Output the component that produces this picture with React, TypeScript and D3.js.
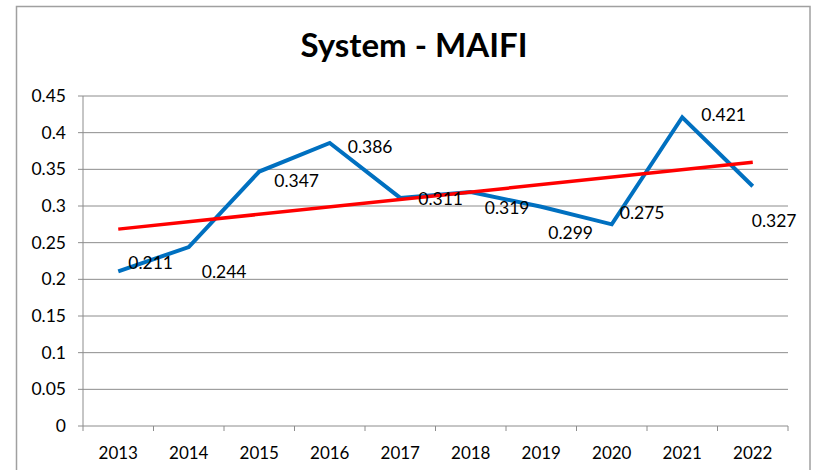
import React from "react";
import * as d3 from "d3";

const years = ["2013", "2014", "2015", "2016", "2017", "2018", "2019", "2020", "2021", "2022"];
const maifi = [0.211, 0.244, 0.347, 0.386, 0.311, 0.319, 0.299, 0.275, 0.421, 0.327];
const yTicks = [0, 0.05, 0.1, 0.15, 0.2, 0.25, 0.3, 0.35, 0.4, 0.45];
const yTickLabels = ["0", "0.05", "0.1", "0.15", "0.2", "0.25", "0.3", "0.35", "0.4", "0.45"];
// label offsets relative to the point (px)
const labelDx = [10, 13, 15, 18, 18, 14, 7, 8, 19, -1];
const labelDy = [-8, 25, 9, 4, 1, 16, 26, -11, -2, 35];

const W = 815;
const H = 470;
const FONT = "Lato, 'Open Sans', sans-serif";

export default function App() {
  const left = 83, right = 788, top = 96, bottom = 426;
  const x = d3.scaleBand<string>().domain(years).range([left, right]);
  const y = d3.scaleLinear().domain([0, 0.45]).range([bottom, top]);
  const cx = (i: number) => (x(years[i]) as number) + x.bandwidth() / 2;

  const line = d3
    .line<number>()
    .x((_, i) => cx(i))
    .y((d) => y(d));

  // linear trend line (least squares)
  const n = maifi.length;
  const xm = d3.mean(d3.range(n)) as number;
  const ym = d3.mean(maifi) as number;
  const slope =
    d3.sum(maifi.map((v, i) => (i - xm) * (v - ym))) /
    d3.sum(d3.range(n).map((i) => (i - xm) * (i - xm)));
  const intercept = ym - slope * xm;
  const trend = [intercept, intercept + slope * (n - 1)];

  const bandTicks = years.map((_, i) => left + i * x.step()).concat([right]);

  return (
    <svg width={W} height={H} style={{ position: "absolute", left: 0, top: 0 }}>
      <rect x={0} y={0} width={W} height={H} fill="#fff" />
      <rect x={16.5} y={6.5} width={793.5} height={480} fill="#fff" stroke="#a0a0a0" strokeWidth={1.5} />
      <text
        x={414}
        y={57}
        textAnchor="middle"
        fontFamily={FONT}
        fontWeight="bold"
        fontSize={33}
        fill="#000"
      >
        System - MAIFI
      </text>
      {yTicks.map((t, i) => (
        <g key={i}>
          <line x1={left} x2={right} y1={y(t)} y2={y(t)} stroke="#8c8c8c" strokeWidth={1} />
          <line x1={left - 5} x2={left} y1={y(t)} y2={y(t)} stroke="#8c8c8c" strokeWidth={1} />
          <text
            x={66}
            y={y(t)}
            dy="0.35em"
            textAnchor="end"
            fontFamily={FONT}
            fontSize={17.5}
            fill="#000"
          >
            {yTickLabels[i]}
          </text>
        </g>
      ))}
      <line x1={left} x2={left} y1={top} y2={bottom} stroke="#8c8c8c" strokeWidth={1} />
      {bandTicks.map((bx, i) => (
        <line key={i} x1={bx} x2={bx} y1={bottom} y2={bottom + 5} stroke="#8c8c8c" strokeWidth={1} />
      ))}
      {years.map((yr, i) => (
        <text
          key={yr}
          x={cx(i)}
          y={453}
          dy="0.35em"
          textAnchor="middle"
          fontFamily={FONT}
          fontSize={17}
          fill="#000"
        >
          {yr}
        </text>
      ))}
      <path d={line(maifi) || ""} fill="none" stroke="#0070c0" strokeWidth={4} strokeLinejoin="miter" />
      <line
        x1={cx(0)}
        x2={cx(n - 1)}
        y1={y(trend[0])}
        y2={y(trend[1])}
        stroke="#ff0000"
        strokeWidth={3.5}
      />
      {maifi.map((v, i) => (
        <text
          key={i}
          x={cx(i) + labelDx[i]}
          y={y(v) + labelDy[i]}
          dy="0.35em"
          fontFamily={FONT}
          fontSize={17.5}
          fill="#000"
        >
          {v.toFixed(3)}
        </text>
      ))}
    </svg>
  );
}
